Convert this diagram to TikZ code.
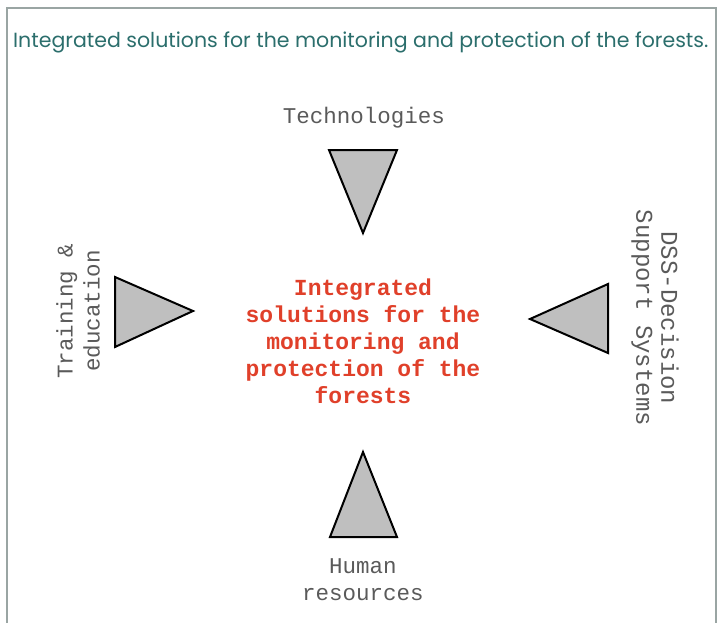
\documentclass[tikz,border=0pt]{standalone}
\usepackage{fontspec}
\setmainfont{Poppins}
\newfontfamily\monofont{Liberation Mono}
\definecolor{titlecol}{HTML}{2B6E6C}
\definecolor{labelcol}{HTML}{5A5A5A}
\definecolor{centercol}{HTML}{E0402A}
\definecolor{trifill}{HTML}{BFBFBF}
\definecolor{framecol}{HTML}{9AA5A3}
\tikzset{
  tri/.style={draw=black, fill=trifill, line width=2pt, line join=miter},
  lbl/.style={text=labelcol, font=\monofont\fontsize{22.5}{27}\selectfont, align=center, inner sep=0pt},
  lblr/.style={text=labelcol, font=\monofont\fontsize{24}{25}\selectfont, align=center, inner sep=0pt},
  ctr/.style={text=centercol, font=\monofont\bfseries\fontsize{23}{27}\selectfont, align=center, inner sep=0pt},
  frame/.style={draw=framecol, line width=1.6pt}
}
\begin{document}
\begin{tikzpicture}[x=1pt,y=-1pt]
\useasboundingbox (0,0) rectangle (717,623);
\coordinate (fbl) at (7,623);
\coordinate (ftl) at (7,8);
\coordinate (ftr) at (716,8);
\coordinate (fbr) at (716,623);
\draw[frame] (fbl) -- (ftl) -- (ftr) -- (fbr);
\node[anchor=base west, inner sep=0pt, text=titlecol, font=\fontsize{20.5}{24}\selectfont] (title) at (13,48) {Integrated solutions for the monitoring and protection of the forests.};
% triangles
\draw[tri] (329,150) -- (397,150) -- (363,233) -- cycle;
\draw[tri] (115,277) -- (193,311) -- (115,347) -- cycle;
\draw[tri] (608,284) -- (608,353) -- (530,319) -- cycle;
\draw[tri] (363,452) -- (397,537) -- (330,537) -- cycle;
% labels
\node[lbl] (tech) at (364,118) {Technologies};
\node[lbl, rotate=90] (train) at (78,311) {Training \&\\education};
\node[lblr, rotate=-90] (dss) at (655,318) {DSS-Decision\\Support Systems};
\node[lbl] (human) at (363,580) {Human\\resources};
\node[ctr] (center) at (363,341) {Integrated\\solutions for the\\monitoring and\\protection of the\\forests};
\end{tikzpicture}
\end{document}
